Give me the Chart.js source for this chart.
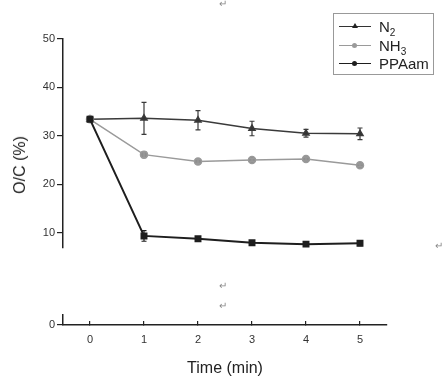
<!DOCTYPE html>
<html>
<head>
<meta charset="utf-8">
<script src="https://cdn.jsdelivr.net/npm/chart.js@4/dist/chart.umd.min.js"></script>
<style>
    body { margin: 0; background: #fff; }
    #wrap { position: relative; width: 443px; height: 384px; font-family: Arial, "Liberation Sans", sans-serif; color: #222; }
    #wrap canvas { position: absolute; left: 0; top: 0; }
    .ret { position: absolute; font-size: 10px; color: #888; }
    #ytitle { position: absolute; left: 20px; top: 165px; font-size: 16px; transform: translate(-50%, -50%) rotate(-90deg); white-space: nowrap; }
    #legend { position: absolute; left: 333px; top: 13px; width: 99px; height: 60px; border: 1px solid #999; }
    .row { position: absolute; left: 4px; height: 18px; font-size: 15px; line-height: 18px; }
    .row .ln { position: absolute; left: 1px; top: 8px; width: 32px; height: 0; border-top: 1.5px solid #333; }
    .row .mk { position: absolute; left: 14px; top: 6px; width: 5px; height: 5px; border-radius: 50%; }
    .row .tri { position: absolute; left: 14px; top: 5px; width: 0; height: 0; border-left: 3px solid transparent; border-right: 3px solid transparent; border-bottom: 5px solid #222; }
    .row .txt { position: absolute; left: 41px; top: 0; white-space: nowrap; }
</style>
</head>
<body>
<div id="wrap">
    <canvas id="upper" width="443" height="384"></canvas>
    <canvas id="lower" width="443" height="384"></canvas>
    <div id="ytitle">O/C (%)</div>
    <div id="legend">
        <div class="row" style="top:4px"><span class="ln"></span><span class="tri"></span><span class="txt">N<sub style="font-size:10px">2</sub></span></div>
        <div class="row" style="top:23px"><span class="ln" style="border-color:#9a9a9a"></span><span class="mk" style="background:#9a9a9a"></span><span class="txt">NH<sub style="font-size:10px">3</sub></span></div>
        <div class="row" style="top:41px"><span class="ln" style="border-color:#1e1e1e"></span><span class="mk" style="background:#1e1e1e"></span><span class="txt">PPAam</span></div>
    </div>
    <span class="ret" style="left:219px;top:-2px">↵</span>
    <span class="ret" style="left:219px;top:280px">↵</span>
    <span class="ret" style="left:219px;top:300px">↵</span>
    <span class="ret" style="left:435px;top:240px">↵</span>
</div>
<script>
const times = [0, 1, 2, 3, 4, 5];
const yTicks = [10, 20, 30, 40, 50];

const n2Values = [33.4, 33.6, 33.2, 31.5, 30.5, 30.4];
const n2Errors = [0, 3.3, 2.0, 1.5, 0.8, 1.2];
const nh3Values = [33.4, 26.1, 24.7, 25.0, 25.2, 23.9];
const nh3Errors = [0, 0.6, 0.4, 0.3, 0.4, 0.3];
const ppaamValues = [33.4, 9.3, 8.7, 7.9, 7.6, 7.8];
const ppaamErrors = [0, 1.1, 0.3, 0.2, 0.2, 0.5];

const tickFont = { family: 'Arial, "Liberation Sans", sans-serif', size: 11 };

function toPoints(values) {
    return times.map((t, i) => ({ x: t, y: values[i] }));
}

// error bars drawn with the chart's own scales
const errorBars = {
    id: 'errorBars',
    afterDatasetsDraw(chart) {
        const ctx = chart.ctx;
        const xs = chart.scales.x;
        const ys = chart.scales.y;
        chart.data.datasets.forEach(ds => {
            if (!ds.errors) return;
            ctx.save();
            ctx.strokeStyle = ds.borderColor;
            ctx.lineWidth = 1.2;
            ds.data.forEach((p, i) => {
                const e = ds.errors[i];
                if (!e) return;
                const px = xs.getPixelForValue(p.x);
                const top = ys.getPixelForValue(p.y + e);
                const bot = ys.getPixelForValue(p.y - e);
                ctx.beginPath();
                ctx.moveTo(px, top); ctx.lineTo(px, bot);
                ctx.moveTo(px - 2.5, top); ctx.lineTo(px + 2.5, top);
                ctx.moveTo(px - 2.5, bot); ctx.lineTo(px + 2.5, bot);
                ctx.stroke();
            });
            ctx.restore();
        });
    }
};

new Chart(document.getElementById('upper'), {
    type: 'line',
    data: {
        datasets: [
            {
                label: 'N2', data: toPoints(n2Values), errors: n2Errors, order: 3,
                borderColor: '#3a3a3a', backgroundColor: '#2a2a2a', borderWidth: 1.5,
                pointStyle: 'triangle', pointRadius: 3.5
            },
            {
                label: 'NH3', data: toPoints(nh3Values), errors: nh3Errors, order: 2,
                borderColor: '#9a9a9a', backgroundColor: '#8e8e8e', borderWidth: 1.5,
                pointStyle: 'circle', pointRadius: 3.5
            },
            {
                label: 'PPAam', data: toPoints(ppaamValues), errors: ppaamErrors, order: 1,
                borderColor: '#1e1e1e', backgroundColor: '#1e1e1e', borderWidth: 2,
                pointStyle: 'rect', pointRadius: 3.5
            }
        ]
    },
    options: {
        responsive: false,
        animation: false,
        layout: { padding: { left: 0, top: 39, right: 56, bottom: 136 } },
        plugins: { legend: { display: false }, tooltip: { enabled: false } },
        scales: {
            x: { type: 'linear', min: -0.5, max: 5.5, display: false },
            y: {
                min: 6.8, max: 50,
                afterBuildTicks: axis => { axis.ticks = yTicks.map(v => ({ value: v })); },
                afterFit: axis => { axis.width = 63; },
                grid: { drawOnChartArea: false, drawTicks: true, tickLength: 6, color: '#222', lineWidth: 1.2 },
                border: { display: true, color: '#222', width: 1.5 },
                ticks: { font: tickFont, color: '#333', padding: 2 }
            }
        }
    },
    plugins: [errorBars]
});

new Chart(document.getElementById('lower'), {
    type: 'line',
    data: { datasets: [{ data: [] }] },
    options: {
        responsive: false,
        animation: false,
        layout: { padding: { left: 0, top: 315, right: 56, bottom: 0 } },
        plugins: { legend: { display: false }, tooltip: { enabled: false } },
        scales: {
            x: {
                type: 'linear', min: -0.5, max: 5.5,
                afterBuildTicks: axis => { axis.ticks = times.map(v => ({ value: v })); },
                afterFit: axis => { axis.height = 59; },
                grid: { drawOnChartArea: false, drawTicks: true, tickLength: -4, color: '#222', lineWidth: 1.2 },
                border: { display: true, color: '#222', width: 1.5 },
                ticks: { font: tickFont, color: '#333', padding: 12, maxRotation: 0 },
                title: {
                    display: true, text: 'Time (min)', color: '#222',
                    font: { family: 'Arial, "Liberation Sans", sans-serif', size: 16 },
                    padding: { top: 0, bottom: 6 }
                }
            },
            y: {
                min: 0, max: 1,
                afterBuildTicks: axis => { axis.ticks = [{ value: 0 }]; },
                afterFit: axis => { axis.width = 63; },
                grid: { drawOnChartArea: false, drawTicks: true, tickLength: 6, color: '#222', lineWidth: 1.2 },
                border: { display: true, color: '#222', width: 1.5 },
                ticks: { font: tickFont, color: '#333', padding: 2 }
            }
        }
    }
});
</script>
</body>
</html>
